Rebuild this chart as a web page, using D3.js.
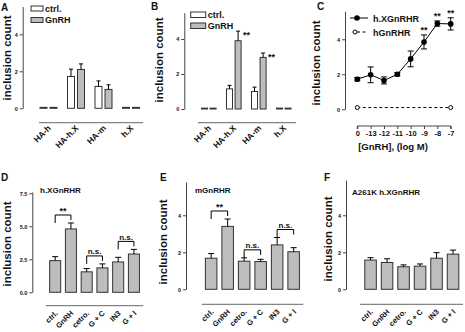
<!DOCTYPE html>
<html>
<head>
<meta charset="utf-8">
<script src="https://cdn.jsdelivr.net/npm/d3@7"></script>
<style>
  body { margin: 0; background: #fff; }
  text { font-family: "Liberation Sans", Arial, sans-serif; font-weight: bold; fill: #111; }
</style>
</head>
<body>
<div id="chart"></div>
<script>
// ---- data ----
const groupsAB = ["HA-h", "HA-h.X", "HA-m", "h.X"];
const seriesAB = ["ctrl.", "GnRH"];

const ctrlA = [0.05, 1.72, 1.18, 0.05];
const ctrlAErr = [0, 0.4, 0.3, 0];
const gnrhA = [0.05, 2.1, 1.02, 0.05];
const gnrhAErr = [0, 0.3, 0.25, 0];

const ctrlB = [0.05, 1.15, 1.0, 0.05];
const ctrlBErr = [0, 0.2, 0.25, 0];
const gnrhB = [0.05, 3.9, 2.95, 0.05];
const gnrhBErr = [0, 0.55, 0.25, 0];
const starsB = ["", "**", "**", ""];

const doses = ["0", "-13", "-12", "-11", "-10", "-9", "-8", "-7"];
const xGnRHR = [1.72, 1.97, 1.65, 2.0, 2.88, 3.85, 4.9, 4.88];
const xGnRHRErr = [0.1, 0.45, 0.2, 0.1, 0.45, 0.4, 0.15, 0.35];
const starsC = ["", "", "", "", "", "**", "**", "**"];
const hGnRHRDoses = ["0", "-7"];
const hGnRHR = [0.1, 0.1];

const treatments = ["ctrl.", "GnRH", "cetro.", "G + C", "IN3", "G + I"];
const valuesD = [2.4, 4.8, 1.55, 1.85, 2.3, 2.9];
const errD = [0.3, 0.45, 0.25, 0.3, 0.35, 0.35];
const valuesE = [1.68, 3.4, 1.52, 1.5, 2.4, 2.03];
const errE = [0.25, 0.4, 0.18, 0.12, 0.4, 0.22];
const valuesF = [1.58, 1.45, 1.22, 1.25, 1.68, 1.9];
const errF = [0.13, 0.2, 0.1, 0.12, 0.3, 0.22];
const compares = [[0, 1, "**"], [2, 3, "n.s."], [4, 5, "n.s."]];

// ---- drawing ----
const svg = d3.select("#chart").append("svg")
  .attr("width", 465)
  .attr("height", 332);

const barFill = "#bdbdbd";
const edge = "#333";

function drawYAxis(y, x, ticks, fmt) {
  const g = svg.append("g")
    .attr("transform", `translate(${x},0)`)
    .call(d3.axisLeft(y).tickValues(ticks).tickSize(3).tickSizeOuter(0).tickFormat(fmt));
  g.attr("font-family", null).attr("font-size", 5.5);
  g.selectAll("path, line").attr("stroke", "#444");
  g.selectAll("text").attr("x", -5);
}

function yTitle(x, y) {
  svg.append("text")
    .attr("transform", `translate(${x},${y}) rotate(-90)`)
    .attr("text-anchor", "middle")
    .attr("font-size", 11.5)
    .text("inclusion count");
}

function letter(t, x, y) {
  svg.append("text").attr("x", x).attr("y", y).attr("font-size", 10).text(t);
}

function xLine(x0, x1, y) {
  svg.append("line")
    .attr("x1", x0).attr("x2", x1).attr("y1", y).attr("y2", y)
    .attr("stroke", "#666").attr("stroke-width", 1);
}

function catLabels(names, xs, y, size) {
  svg.append("g").selectAll("text").data(names).join("text")
    .attr("transform", (d, i) => `translate(${xs[i] + 3},${y}) rotate(-45)`)
    .attr("text-anchor", "end")
    .attr("font-size", size)
    .text(d => d);
}

function errUp(xc, y, v, e, cap) {
  if (!e) return;
  svg.append("line").attr("x1", xc).attr("x2", xc)
    .attr("y1", y(v)).attr("y2", y(v + e)).attr("stroke", "#000").attr("stroke-width", 1);
  svg.append("line").attr("x1", xc - cap / 2).attr("x2", xc + cap / 2)
    .attr("y1", y(v + e)).attr("y2", y(v + e)).attr("stroke", "#000").attr("stroke-width", 1);
}

function legendBoxes(x, y0, dy, w, h, size) {
  seriesAB.forEach((s, i) => {
    svg.append("rect").attr("x", x).attr("y", y0 + i * dy).attr("width", w).attr("height", h)
      .attr("fill", i ? barFill : "#fff").attr("stroke", edge);
    svg.append("text").attr("x", x + w + 2).attr("y", y0 + i * dy + h + 0.5).attr("font-size", size).text(s);
  });
}

// paired bar panels (A, B)
function pairedPanel(o) {
  const y = d3.scaleLinear().domain([0, o.top]).range([o.y0, o.y0 - o.top * o.k]);
  const x = d3.scaleBand().domain(groupsAB).range(o.xr);
  const x1 = d3.scaleBand().domain(seriesAB).range([x.bandwidth() / 2 - o.bw - 1.5, x.bandwidth() / 2 + o.bw + 1.5]).paddingInner(0.3);
  drawYAxis(y, o.ax, [0, 2, 4], d3.format("d"));
  const sets = [[o.ctrl, o.ctrlErr, "#fff"], [o.gnrh, o.gnrhErr, barFill]];
  sets.forEach(([vals, errs, fill], si) => {
    groupsAB.forEach((gname, i) => {
      const bx = x(gname) + x1(seriesAB[si]);
      svg.append("rect")
        .attr("x", bx).attr("y", y(vals[i]))
        .attr("width", x1.bandwidth()).attr("height", y(0) - y(vals[i]))
        .attr("fill", fill).attr("stroke", edge).attr("stroke-width", 1);
      errUp(bx + x1.bandwidth() / 2, y, vals[i], errs[i], 4);
      if (si === 1 && o.stars && o.stars[i]) {
        svg.append("text").attr("x", bx + x1.bandwidth() + 2).attr("y", y(vals[i] + errs[i]) + 7)
          .attr("font-size", 9).text(o.stars[i]);
      }
    });
  });
  xLine(o.xl[0], o.xl[1], o.xly);
  catLabels(groupsAB, groupsAB.map(g => x(g) + x.bandwidth() / 2), o.xly + 6, 8.5);
}

pairedPanel({ top: 5.5, y0: 108.3, k: 18.5, xr: [34.75, 144.75], bw: 7, ax: 22.7,
  ctrl: ctrlA, ctrlErr: ctrlAErr, gnrh: gnrhA, gnrhErr: gnrhAErr, xl: [39, 143], xly: 122.7 });
legendBoxes(31, 6, 11.5, 12, 5, 9);
letter("A", 1, 11);
yTitle(11, 58);

pairedPanel({ top: 5.5, y0: 109, k: 17.5, xr: [196.3, 296.3], bw: 5.8, ax: 184.3,
  ctrl: ctrlB, ctrlErr: ctrlBErr, gnrh: gnrhB, gnrhErr: gnrhBErr, stars: starsB, xl: [198, 296], xly: 122.7 });
legendBoxes(190.7, 12, 11, 15, 5.5, 9);
letter("B", 151, 10);
yTitle(163, 60);

// panel C: dose response
(function () {
  const y = d3.scaleLinear().domain([0, 5.6]).range([109.3, 109.3 - 5.6 * 17.5]);
  const x = d3.scalePoint().domain(doses).range([357.3, 450.7]);
  drawYAxis(y, 345, [0, 2, 4], d3.format("d"));
  const line = d3.line().x((d, i) => x(doses[i])).y(d => y(d));
  svg.append("path").attr("d", line(xGnRHR)).attr("fill", "none").attr("stroke", "#000").attr("stroke-width", 1);
  svg.append("path")
    .attr("d", d3.line().x((d, i) => x(hGnRHRDoses[i])).y(d => y(d))(hGnRHR))
    .attr("fill", "none").attr("stroke", "#000").attr("stroke-width", 1).attr("stroke-dasharray", "3,2.5");
  xGnRHR.forEach((v, i) => {
    const cx = x(doses[i]), e = xGnRHRErr[i];
    svg.append("line").attr("x1", cx).attr("x2", cx).attr("y1", y(v - e)).attr("y2", y(v + e)).attr("stroke", "#000");
    [v - e, v + e].forEach(t => svg.append("line").attr("x1", cx - 3).attr("x2", cx + 3)
      .attr("y1", y(t)).attr("y2", y(t)).attr("stroke", "#000"));
    if (starsC[i]) svg.append("text").attr("x", cx).attr("y", y(v + e) - 1.5)
      .attr("text-anchor", "middle").attr("font-size", 9).text(starsC[i]);
  });
  svg.append("g").selectAll("circle").data(xGnRHR).join("circle")
    .attr("cx", (d, i) => x(doses[i])).attr("cy", d => y(d)).attr("r", 2.8).attr("fill", "#000");
  svg.append("g").selectAll("circle").data(hGnRHR).join("circle")
    .attr("cx", (d, i) => x(hGnRHRDoses[i])).attr("cy", d => y(d)).attr("r", 2).attr("fill", "#fff").attr("stroke", "#000");
  // x axis
  const xa = svg.append("g").attr("transform", "translate(0,126)")
    .call(d3.axisBottom(x).tickSize(3).tickSizeOuter(0).tickPadding(2));
  xa.attr("font-family", null).attr("font-size", 7.5);
  xa.selectAll("path, line").attr("stroke", "#444");
  xa.select(".domain").attr("d", `M${x("0")},3V0H${x("-7")}V3`);
  svg.append("text").attr("x", 393).attr("y", 150).attr("text-anchor", "middle").attr("font-size", 9.5)
    .text("[GnRH], (log M)");
  // legend
  svg.append("line").attr("x1", 350).attr("x2", 368).attr("y1", 18).attr("y2", 18).attr("stroke", "#000");
  svg.append("circle").attr("cx", 357).attr("cy", 18).attr("r", 2.8).attr("fill", "#000");
  svg.append("text").attr("x", 373).attr("y", 21.5).attr("font-size", 9).text("h.XGnRHR");
  svg.append("line").attr("x1", 357).attr("x2", 368).attr("y1", 32).attr("y2", 32).attr("stroke", "#000").attr("stroke-dasharray", "3,2.5");
  svg.append("circle").attr("cx", 355).attr("cy", 32).attr("r", 2).attr("fill", "#fff").attr("stroke", "#000");
  svg.append("text").attr("x", 373).attr("y", 35.5).attr("font-size", 9).text("hGnRHR");
  letter("C", 317, 10);
  yTitle(320, 63);
})();

// treatment bar panels (D, E, F)
function treatPanel(o) {
  const y = d3.scaleLinear().domain([0, o.top]).range([o.y0, o.y0 - o.top * o.k]);
  const x = d3.scaleBand().domain(treatments).range(o.xr).paddingInner(0.3).paddingOuter(0.15);
  drawYAxis(y, o.ax, o.ticks, o.fmt);
  treatments.forEach((t, i) => {
    svg.append("rect")
      .attr("x", x(t)).attr("y", y(o.vals[i]))
      .attr("width", x.bandwidth()).attr("height", y(0) - y(o.vals[i]))
      .attr("fill", barFill).attr("stroke", edge).attr("stroke-width", 1);
    errUp(x(t) + x.bandwidth() / 2, y, o.vals[i], o.errs[i], 6);
  });
  if (o.comps) {
    o.comps.forEach(([a, b, label]) => {
      const xa = x(treatments[a]) + x.bandwidth() / 2, xb = x(treatments[b]) + x.bandwidth() / 2;
      const by = Math.min(y(o.vals[a] + o.errs[a]), y(o.vals[b] + o.errs[b])) - 8;
      svg.append("path").attr("d", `M${xa},${by + 8}V${by}H${xb}V${by + 5}`)
        .attr("fill", "none").attr("stroke", "#000").attr("stroke-width", 1);
      svg.append("text").attr("x", (xa + xb) / 2).attr("y", by - 1.5).attr("text-anchor", "middle")
        .attr("font-size", label === "**" ? 9 : 8).attr("font-weight", "normal").text(label);
    });
  }
  xLine(o.xl[0], o.xl[1], o.xly);
  catLabels(treatments, treatments.map(t => x(t) + x.bandwidth() / 2), o.xly + 8, 7.5);
  svg.append("text").attr("x", o.title[1]).attr("y", o.title[2]).attr("font-size", 8).text(o.title[0]);
}

treatPanel({ top: 7.6, y0: 292.3, k: 13.2, xr: [47.3, 141.8], ax: 32.3, ticks: [0, 2.5, 5, 7.5], fmt: d3.format(".1f"),
  vals: valuesD, errs: errD, comps: compares, xl: [45.7, 143.3], xly: 305.7, title: ["h.XGnRHR", 40, 193] });
letter("D", 1, 181);
yTitle(11, 244);

treatPanel({ top: 5.8, y0: 289.3, k: 18.5, xr: [202.9, 301.9], ax: 186, ticks: [0, 2, 4], fmt: d3.format("d"),
  vals: valuesE, errs: errE, comps: compares, xl: [201.7, 303.3], xly: 304.3, title: ["mGnRHR", 195, 193] });
letter("E", 160, 181);
yTitle(167, 242);

treatPanel({ top: 5.9, y0: 289.3, k: 18.5, xr: [362.3, 461.3], ax: 346, ticks: [0, 2, 4], fmt: d3.format("d"),
  vals: valuesF, errs: errF, xl: [360, 463], xly: 304.3, title: ["A261K h.XGnRHR", 352, 195] });
letter("F", 324, 181);
yTitle(332, 239);
</script>
</body>
</html>
